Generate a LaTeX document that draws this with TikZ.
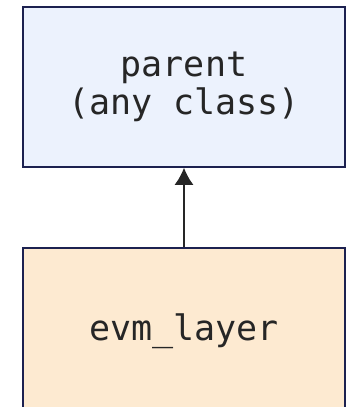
\documentclass[tikz,border=0pt]{standalone}
\usepackage{fontspec}
\setmonofont{DejaVu Sans Mono}
\usetikzlibrary{arrows.meta}
\definecolor{boxline}{HTML}{1C2150}
\definecolor{parentfill}{HTML}{ECF2FD}
\definecolor{layerfill}{HTML}{FDEAD1}
\tikzset{cls/.style={draw=boxline,line width=1.6pt,minimum width=322pt,align=center,
  text=black!85,font=\ttfamily\fontsize{35}{38}\selectfont}}
\begin{document}
\begin{tikzpicture}[x=1pt,y=1pt]
\useasboundingbox (0,0) rectangle (346,407);
\node[cls,fill=parentfill,minimum height=160pt] (parent) at (184,320) {parent\\(any class)};
\node[cls,fill=layerfill,minimum height=166pt] (evm) at (184,76) {evm\_layer};
\draw[-{Latex[length=17pt,width=19pt]},line width=1.6pt,black!85] (evm.north) -- (parent.south);
\end{tikzpicture}
\end{document}
